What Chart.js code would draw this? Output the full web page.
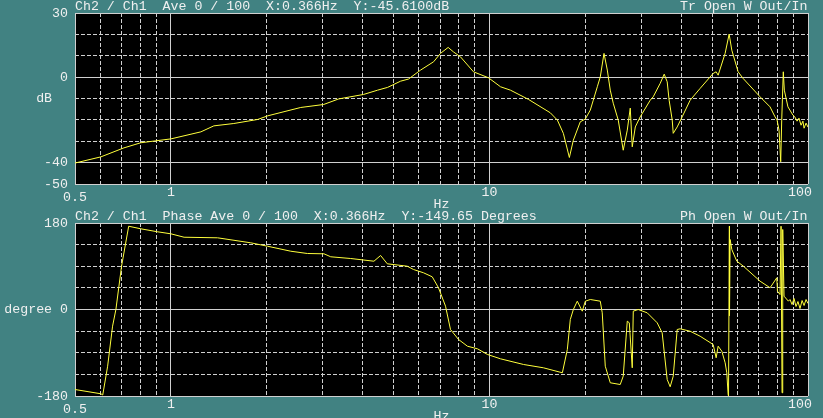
<!DOCTYPE html>
<html>
<head>
<meta charset="utf-8">
<script src="https://cdn.jsdelivr.net/npm/chart.js@4/dist/chart.umd.min.js"></script>
<style>
  html, body { margin: 0; padding: 0; width: 823px; height: 418px; overflow: hidden; background: #418282; }
  canvas { position: absolute; left: 0; }
  #mag { top: 0; }
  #phase { top: 210px; }
</style>
</head>
<body>
<canvas id="mag" width="823" height="212"></canvas>
<canvas id="phase" width="823" height="214"></canvas>
<script>
// x axis (Hz, log)
const xTicks = [0.5, 0.6, 0.7, 0.8, 0.9, 1, 2, 3, 4, 5, 6, 7, 8, 9, 10, 20, 30, 40, 50, 60, 70, 80, 90, 100]
const xSolid = [0.5, 1, 10, 100]
const xTickLabels = { 0.5: ["", "0.5"], 1: "1", 10: "10", 100: "100  " }

// magnitude panel
const magTitle = "Ch2 / Ch1  Ave 0 / 100  X:0.366Hz  Y:-45.6100dB" + " ".repeat(29) + "Tr Open W Out/In"
const magTicks = [-50, -40, -30, -20, -10, 0, 10, 20, 30]
const magSolid = [-50, -40, 0, 30]
const magTickLabels = { 30: "30", 0: "0", "-10": "dB  ", "-40": "-40", "-50": "-50" }

const magFreq = [
  0.5, 0.603, 0.712, 0.805, 0.897, 1.0, 1.242, 1.364, 1.576, 1.874, 2.014, 2.556, 3.017, 3.363,
  4.027, 4.456, 4.79, 5.26, 5.57, 6.08, 6.68, 7.02, 7.42, 7.71, 8.11, 8.91, 9.93, 10.83, 11.64,
  13.25, 15.53, 16.34, 17.06, 17.82, 18.34, 19.28, 20.0, 20.73, 21.18, 21.81, 22.28, 22.89,
  23.44, 23.95, 24.47, 25.37, 26.3, 27.08, 27.67, 28.07, 28.7, 29.73, 31.97, 32.67, 34.36,
  35.37, 36.14, 36.65, 37.48, 37.75, 38.85, 40.27, 42.66, 45.84, 50.36, 51.48, 52.23, 54.93,
  56.55, 57.66, 60.34, 62.55, 70.7, 76.0, 78.8, 79.97, 81.1, 82.1, 82.7, 83.65, 84.27, 86.5,
  89.7, 91.0, 92.4, 93.7, 95.1, 96.4, 97.2, 98.6, 100
]
const magDb = [
  -40.2, -37.3, -33.1, -30.7, -29.8, -28.9, -25.6, -22.8, -21.7, -19.8, -18.1, -14.2, -12.8, -10.2,
  -8.1, -6.1, -4.8, -1.9, -0.9, 3.3, 7.2, 11.1, 13.9, 11.8, 9.5, 2.5, -0.3, -4.5, -6.1,
  -10.4, -16.7, -20.1, -26.3, -37.6, -29.5, -20.9, -19.6, -15.4, -10.8, -4.5, 0.1, 11.1,
  3.3, -6.1, -12.2, -20.1, -34.2, -24.8, -14.5, -32.6, -23.3, -18.6, -10.8, -9.2, -2.9,
  1.4, -2.2, -10.8, -20.1, -26.3, -23.3, -18.6, -10.8, -5.3, 1.7, 2.5, 0.9, 11.1,
  20.1, 12.6, 2.5, -0.6, -9.2, -13.9, -18.6, -20.1, -24.8, -39.6, -20.1, 2.5, -6.1, -13.9,
  -17.8, -18.7, -20.6, -19.2, -22.5, -20.6, -23.9, -21.5, -23.4
]

// phase panel
const phaseTitle = "Ch2 / Ch1  Phase Ave 0 / 100  X:0.366Hz  Y:-149.65 Degrees" + " ".repeat(18) + "Ph Open W Out/In"
const phaseTicks = [-180, -135, -90, -45, 0, 45, 90, 135, 180]
const phaseSolid = [-180, 0, 180]
const phaseTickLabels = { 180: "180", 0: "degree 0", "-180": "-180" }

const phaseFreq = [
  0.5, 0.603, 0.611, 0.633, 0.656, 0.672, 0.70, 0.737, 0.805, 0.908, 1.0, 1.10, 1.401, 1.781,
  2.01, 2.378, 2.683, 3.024, 3.175, 3.667, 4.339, 4.553, 4.779, 5.52, 5.778, 6.21, 6.613, 6.92,
  7.28, 7.545, 8.0, 8.53, 9.17, 9.86, 10.83, 12.79, 14.77, 16.94, 17.56, 17.94, 18.34, 18.87,
  19.56, 20.0, 20.73, 22.28, 22.6, 23.1, 23.95, 25.74, 26.3, 27.08, 27.48, 28.07, 28.28, 29.31,
  31.28, 33.62, 34.85, 36.14, 36.93, 37.75, 38.85, 39.69, 42.66, 45.86, 50.38, 51.48, 52.23,
  53.64, 54.94, 55.6, 56.14, 56.3, 56.65, 56.7, 56.95, 57.66, 59.77, 62.69, 70.73, 76.03, 79.8,
  80.2, 81.7, 82.3, 82.9, 83.3, 84.1, 86.8, 87.8, 89.1, 90.4, 91.7, 93.0, 94.4, 95.8, 97.2,
  98.6, 100
]
const phaseDeg = [
  -166.5, -175.4, -177.9, -118, -34.7, 0, 90.1, 173.3, 167.9, 161.7, 157.5, 150.4, 149.2, 138.8,
  131.7, 121.3, 116.5, 115.9, 109.7, 106.1, 100.5, 112.4, 95.1, 90.1, 83.2, 76.4, 68, 45.2,
  6.9, -41.6, -62.4, -76.4, -81.8, -93.6, -102.6, -114.4, -121.3, -131.7, -83.2, -20.8, 0, 17.3,
  -3.5, 17.3, 20.8, 17.3, -6.9, -118, -152.5, -156.1, -138.8, -24.3, -27.7, -121.3, -3.5, 0,
  -6.9, -27.7, -48.5, -145.7, -160.8, -138.8, -41.6, -40.2, -45.2, -55.6, -72.8, -100.5, -76.4,
  -86.8, -110.9, -131.7, -176.9, -180, 173.3, -12.5, 145.7, 124.8, 100.5, 90.1, 58.9, 45.2, 66,
  38.1, 31.2, 173.3, -173.3, 166.5, 27.7, 17.3, 20.8, 10.4, 22.9, 6.2, 16.6, 2, 18.7, 8.3,
  20.8, 12.5
]

const textColor = "#f0f0f0"
const gridColor = "#d0d0d0"
const curveColor = "#ffff3c"
const monoFont = "'Liberation Mono', 'DejaVu Sans Mono', monospace"

const blackPlot = {
  id: "blackPlot",
  beforeDraw(chart) {
    const { ctx, chartArea: a } = chart
    ctx.save()
    ctx.fillStyle = "#000"
    ctx.fillRect(a.left, a.top, a.right - a.left, a.bottom - a.top)
    ctx.restore()
  },
}

const createPanel = (canvas, title, freq, values, yMin, yMax, yTicks, ySolid, yLabels) => {
  return new Chart(canvas.getContext("2d"), {
    type: "line",
    data: {
      datasets: [
        {
          data: freq.map((f, i) => ({ x: f, y: values[i] })),
          borderColor: curveColor,
          borderWidth: 1,
          pointRadius: 0,
          tension: 0,
          fill: false,
        },
      ],
    },
    options: {
      responsive: false,
      animation: false,
      devicePixelRatio: 1,
      layout: { padding: { left: 0, right: 15, top: 0, bottom: 0 } },
      plugins: {
        legend: { display: false },
        tooltip: { enabled: false },
        title: {
          display: true,
          text: title,
          align: "start",
          fullSize: false,
          color: textColor,
          padding: 0,
          font: { family: monoFont, size: 13.27, weight: "normal", lineHeight: "13px" },
        },
      },
      scales: {
        x: {
          type: "logarithmic",
          position: "bottom",
          min: 0.5,
          max: 100,
          afterBuildTicks: (s) => { s.ticks = xTicks.map((v) => ({ value: v })) },
          afterFit: (s) => { s.height = 28; s.paddingLeft = 0; s.paddingRight = 0 },
          grid: { color: gridColor, lineWidth: 1, drawTicks: false },
          border: { display: false, dash: (ctx) => (ctx.tick && xSolid.includes(ctx.tick.value) ? [] : [4, 2]) },
          ticks: {
            autoSkip: false,
            maxRotation: 0,
            padding: 0,
            color: textColor,
            font: (ctx) => ({
              family: monoFont,
              size: 13.27,
              lineHeight: ctx.tick && ctx.tick.value === 0.5 ? "8.7px" : "16px",
            }),
            callback: (v) => xTickLabels[v] || "",
          },
          title: {
            display: true,
            text: "Hz",
            color: textColor,
            padding: 0,
            font: { family: monoFont, size: 13.27, lineHeight: "16px" },
          },
        },
        y: {
          type: "linear",
          position: "left",
          min: yMin,
          max: yMax,
          afterBuildTicks: (s) => { s.ticks = yTicks.map((v) => ({ value: v })) },
          afterFit: (s) => { s.width = 75; s.paddingTop = 0; s.paddingBottom = 0 },
          grid: { color: gridColor, lineWidth: 1, drawTicks: false },
          border: { display: false, dash: (ctx) => (ctx.tick && ySolid.includes(ctx.tick.value) ? [] : [4, 2]) },
          ticks: {
            autoSkip: false,
            padding: 7,
            color: textColor,
            font: { family: monoFont, size: 13.27, lineHeight: "16px" },
            callback: (v) => yLabels[v] || "",
          },
        },
      },
    },
    plugins: [blackPlot],
  })
}

createPanel(document.getElementById("mag"), magTitle, magFreq, magDb, -50, 30, magTicks, magSolid, magTickLabels)
createPanel(document.getElementById("phase"), phaseTitle, phaseFreq, phaseDeg, -180, 180, phaseTicks, phaseSolid, phaseTickLabels)
</script>
</body>
</html>
